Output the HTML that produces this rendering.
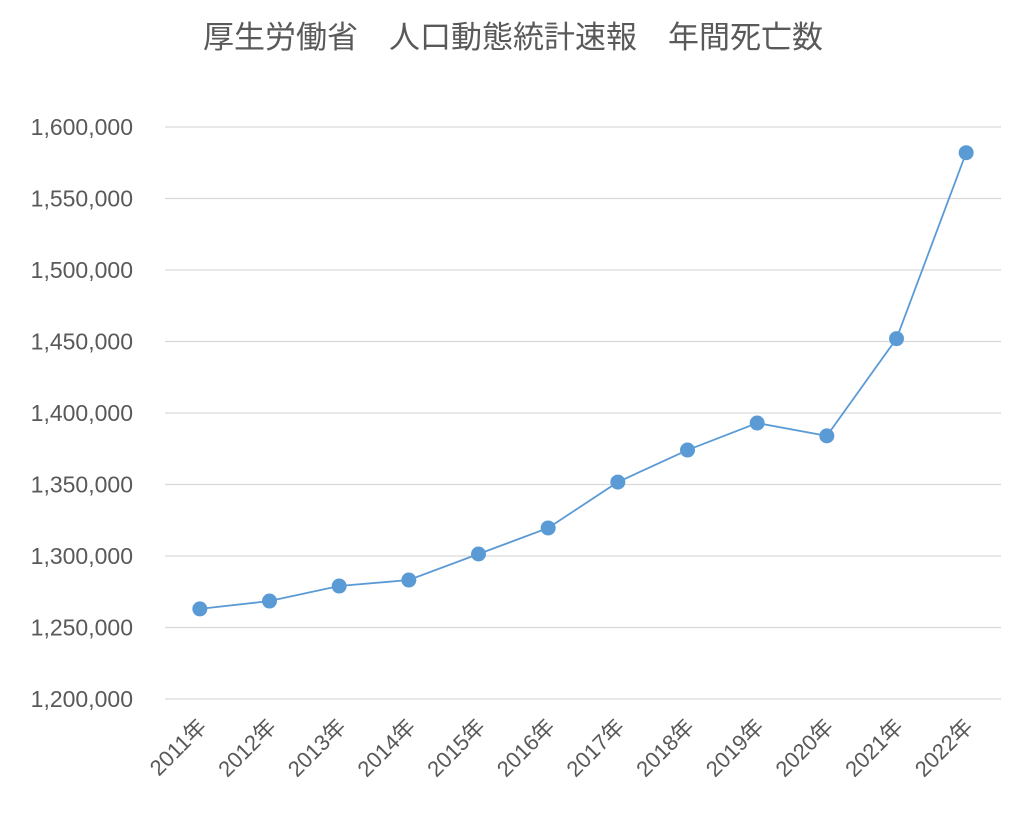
<!DOCTYPE html>
<html><head><meta charset="utf-8"><style>
body{margin:0;background:#fff;}
svg text{font-family:"Liberation Sans","Noto Sans CJK JP",sans-serif;fill:#595959;}
</style></head><body>
<svg id="chart" width="1028" height="818">
<text x="513" y="48" font-size="31" text-anchor="middle">厚生労働省　人口動態統計速報　年間死亡数</text>
<g id="grid"></g><g id="yticks"></g><g id="xticks"></g><g id="series"></g>
</svg>
<script>
const categories=["2011年","2012年","2013年","2014年","2015年","2016年","2017年","2018年","2019年","2020年","2021年","2022年"];
const deaths=[1263000,1268500,1279000,1283200,1301400,1319600,1351700,1374100,1393000,1384000,1452000,1582000];
const yTicks=[1200000,1250000,1300000,1350000,1400000,1450000,1500000,1550000,1600000];
const NS="http://www.w3.org/2000/svg";
const left=165,right=1001,yMin=1200000,yMax=1600000,yBot=699,yTop=127;
const y=v=>yBot-(v-yMin)/(yMax-yMin)*(yBot-yTop);
const step=(right-left)/categories.length;
const x=i=>left+step*(i+0.5);
function mk(t,a,p){const e=document.createElementNS(NS,t);for(const k in a)e.setAttribute(k,a[k]);p.appendChild(e);return e;}
const grid=document.getElementById('grid'),yt=document.getElementById('yticks'),xt=document.getElementById('xticks'),se=document.getElementById('series');
yTicks.forEach(v=>{
 const l=mk('line',{x1:left,x2:right,y1:y(v),y2:y(v),stroke:'#d9d9d9','stroke-width':1.3},grid);
 
 
 const t=mk('text',{x:133,y:y(v)+8,'font-size':23,'text-anchor':'end'},yt);
 t.textContent=v.toLocaleString('en-US');
 
 
});
categories.forEach((c,i)=>{
 const px=x(i)+8,py=728;
 const t=mk('text',{x:px,y:py,'font-size':22,'text-anchor':'end',transform:`rotate(-45 ${px} ${py})`},xt);
 t.textContent=c;
 
 
});
const pl=mk('polyline',{points:deaths.map((v,i)=>x(i)+','+y(v)).join(' '),fill:'none',stroke:'#5b9bd5','stroke-width':1.8},se);


deaths.forEach((v,i)=>{
 const c=mk('circle',{cx:x(i),cy:y(v),r:7.5,fill:'#5b9bd5'},se);
 
 
});
</script>
</body></html>
